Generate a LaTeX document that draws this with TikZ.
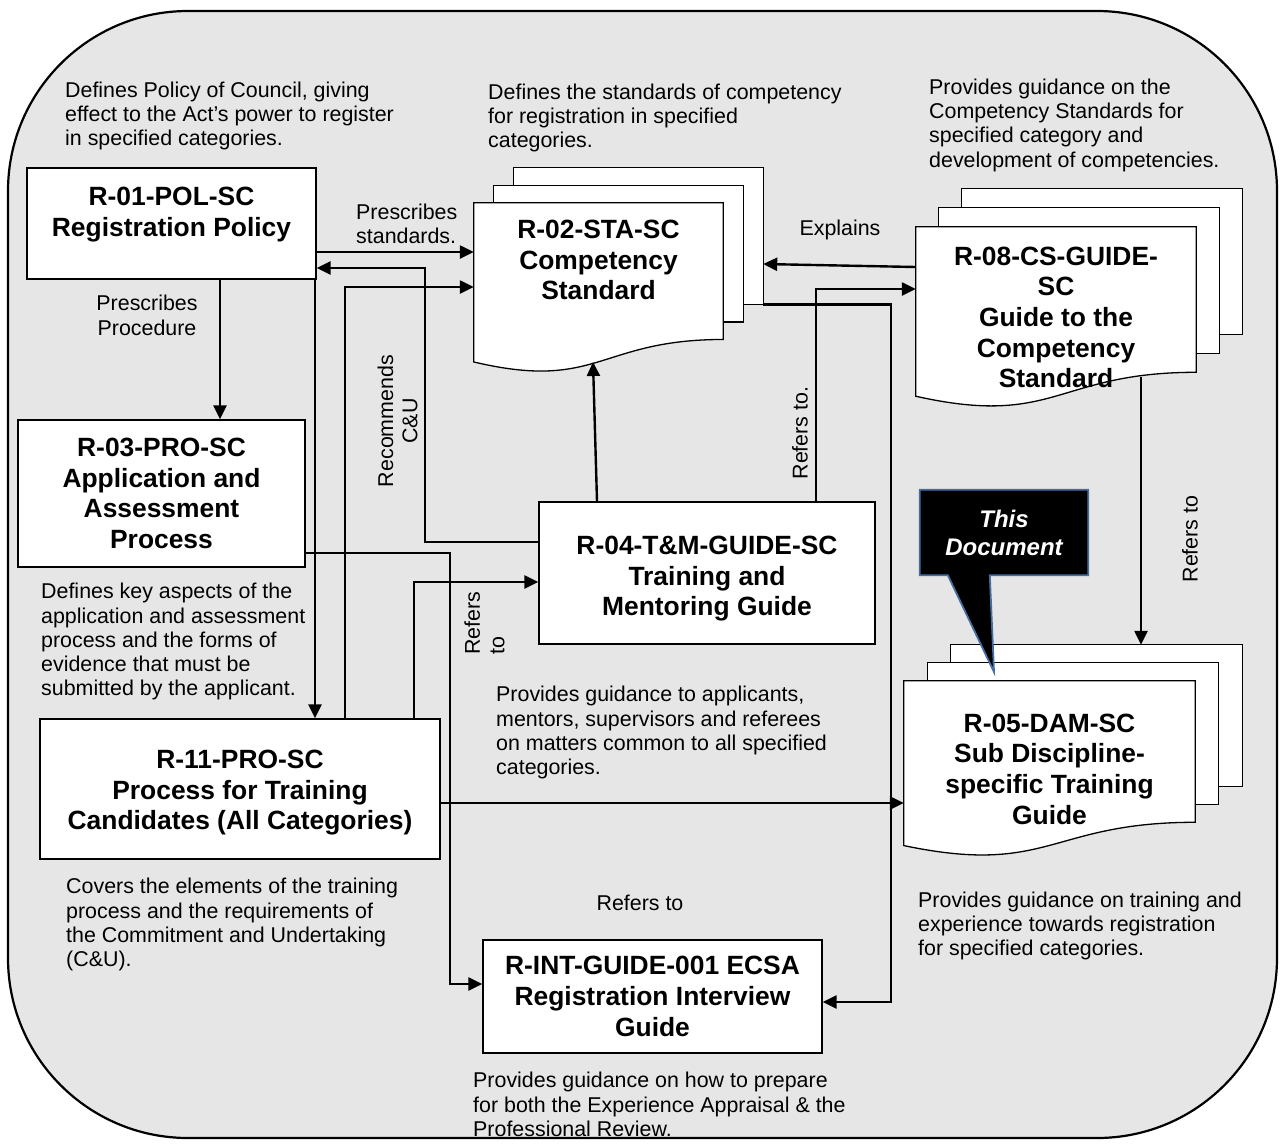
\documentclass[tikz,border=0pt]{standalone}
\usepackage{fontspec}
\setmainfont{Liberation Sans}
\usetikzlibrary{arrows.meta,calc}
\pgfdeclarelayer{framelayer}
\pgfdeclarelayer{doclayer}
\pgfsetlayers{framelayer,doclayer,main}
\definecolor{bggray}{RGB}{230,230,230}
\definecolor{callblue}{RGB}{70,110,160}
\newcommand\descfont{\fontsize{21.4pt}{24.3pt}\selectfont}
\newcommand\titlefont{\fontsize{26.4pt}{30.7pt}\selectfont\bfseries}
\newcommand\callfont{\fontsize{24pt}{28pt}\selectfont\bfseries\itshape}
\tikzset{
  box/.style={draw, line width=1.3pt, fill=white, inner sep=0pt, align=center, font=\titlefont},
  docnode/.style={inner sep=0pt, align=center, font=\titlefont},
  sheet/.style={draw, line width=1.3pt, fill=white},
  desc/.style={anchor=north west, inner sep=0pt, align=left, font=\descfont},
  lbl/.style={inner sep=0pt, font=\descfont},
  conn/.style={line width=2.4pt, -{Triangle[length=14pt,width=13pt]}},
  frame/.style={draw, line width=2.2pt, fill=bggray, rounded corners=180pt},
  callout/.style={fill=black, draw=callblue, line width=1.8pt, line join=miter},
}
% name, dx, dy : draws the stacked document shape around node #1
\newcommand\docstack[3]{%
  \coordinate (#1re) at ($(#1.north east)!0.802!(#1.south east)$);
  \coordinate (#1bse) at ($(#1re)+(2*#2,-2*#3)$);
  \coordinate (#1bnw) at ($(#1.north west)+(2*#2,-2*#3)$);
  \begin{pgfonlayer}{doclayer}
    \filldraw[sheet] (#1bnw) rectangle (#1bse);
    \filldraw[sheet] ($(#1.north west)+(#2,-#3)$) rectangle ($(#1re)+(#2,-#3)$);
    \filldraw[sheet] (#1.north west) -- (#1.north east) -- (#1re)
      .. controls ($(#1.north)!0.802!(#1.south)$) and ($(#1.north)!1.1075!(#1.south)$)
      .. ($(#1.north west)!0.934!(#1.south west)$) -- cycle;
  \end{pgfonlayer}}
\begin{document}
\begin{tikzpicture}[x=1pt, y=-1pt]
\useasboundingbox (0,0) rectangle (1282,1144);
\begin{pgfonlayer}{framelayer}
  \path[frame] (8,11) rectangle (1277,1138);
\end{pgfonlayer}

% boxes
\node[box, minimum width=289, minimum height=111] (r01) at (171.5,223.5)
  {\parbox[c][111pt][t]{289pt}{\centering\vspace*{19pt}R-01-POL-SC\\Registration Policy}};
\node[box, minimum width=287, minimum height=147] (r03) at (161.5,493.5)
  {R-03-PRO-SC\\Application and\\Assessment\\Process};
\node[box, minimum width=400, minimum height=140] (r11) at (240,789)
  {\parbox[c][140pt][t]{400pt}{\centering\vspace*{31pt}R-11-PRO-SC\\Process for Training\\Candidates (All Categories)}};
\node[box, minimum width=336, minimum height=142] (r04) at (707,573)
  {\parbox[c][142pt][t]{336pt}{\centering\vspace*{34pt}R-04-T\&M-GUIDE-SC\\Training and\\Mentoring Guide}};
\node[box, minimum width=339, minimum height=113] (rint) at (652.5,996.5)
  {R-INT-GUIDE-001 ECSA\\Registration Interview\\Guide};

% document stacks
\node[docnode, minimum width=249, minimum height=170] (r02) at (598.5,288)
  {\parbox[c][170pt][t]{249pt}{\centering\vspace*{17pt}R-02-STA-SC\\Competency\\Standard}};
\node[docnode, minimum width=280, minimum height=181] (r08) at (1056,317.5)
  {R-08-CS-GUIDE-\\SC\\Guide to the\\Competency\\Standard};
\node[docnode, minimum width=291, minimum height=176] (r05) at (1049.5,769)
  {R-05-DAM-SC\\Sub Discipline-\\specific Training\\Guide};
\docstack{r02}{20}{17.5}
\docstack{r08}{23}{19}
\docstack{r05}{23.5}{18}

% callout
\node[inner sep=0pt, align=center, font=\callfont, text=white, minimum width=168, minimum height=85] (thisdoc) at (1004,532.5) {This\\Document};
\coordinate (calltip) at (994,672);
\begin{pgfonlayer}{doclayer}
  \path[callout] (thisdoc.north west) -- (thisdoc.north east) -- (thisdoc.south east)
    -- ($(thisdoc.south west)+(70,0)$) -- (calltip) -- ($(thisdoc.south west)+(28,0)$)
    -- (thisdoc.south west) -- cycle;
\end{pgfonlayer}

% descriptions
\node[desc] (d01) at (65,81.5) {Defines Policy of Council, giving\\effect to the Act’s power to register\\in specified categories.};
\node[desc] (d02) at (488,83.5) {Defines the standards of competency\\for registration in specified\\categories.};
\node[desc] (d08) at (929,78.5) {Provides guidance on the\\Competency Standards for\\specified category and\\development of competencies.};
\node[desc] (d03) at (41,583) {Defines key aspects of the\\application and assessment\\process and the forms of\\evidence that must be\\submitted by the applicant.};
\node[desc] (d04) at (496,686) {Provides guidance to applicants,\\mentors, supervisors and referees\\on matters common to all specified\\categories.};
\node[desc] (d11) at (66,878) {Covers the elements of the training\\process and the requirements of\\the Commitment and Undertaking\\(C\&U).};
\node[desc] (d05) at (918,891.5) {Provides guidance on training and\\experience towards registration\\for specified categories.};
\node[desc] (dint) at (473,1072) {Provides guidance on how to prepare\\for both the Experience Appraisal \& the\\Professional Review.};

% connector labels
\node[lbl, anchor=north west, align=left] (lpstd) at (356,203.5) {Prescribes\\standards.};
\node[lbl, anchor=north, align=center] (lpproc) at (147,295) {Prescribes\\Procedure};
\node[lbl, anchor=north] (lexpl) at (840,220) {Explains};
\node[lbl, rotate=90, align=center] (lrec) at (397.5,421) {Recommends\\C\&U};
\node[lbl, rotate=90, align=left] (lref1) at (484.5,623) {Refers\\to};
\node[lbl, rotate=90] (lref2) at (800,433) {Refers to.};
\node[lbl, rotate=90] (lref3) at (1190,539) {Refers to};
\node[lbl] (lref4) at (640,903) {Refers to};

% connectors
\coordinate (r02wave) at (593,362);
\coordinate (r08wave) at (1141,377);
\draw[conn] (r01.east |- 0,252) -- (r02.west |- 0,252);
\draw[conn] (r04.west |- 0,542) -| (425,268) -- (r01.east |- 0,268);
\draw[conn] (r11.north -| 345,0) |- (r02.west |- 0,287);
\draw[conn] (r01.south -| 315,0) -- (r11.north -| 315,0);
\draw[conn] (r01.south -| 220,0) -- (r03.north -| 220,0);
\draw[conn] (r03.east |- 0,553) -| (450,984) -- (rint.west |- 0,984);
\draw[conn] (r11.north -| 414,0) |- (r04.west |- 0,582);
\draw[conn] (r04.north -| 597,0) -- (r02wave);
\draw[conn] (r08.west |- 0,267) -- (r02bse |- 0,264);
\draw[conn] (r04.north -| 816,0) |- (r08.west |- 0,289);
\draw[conn] (r02bse) -| (891,1002) -- (rint.east |- 0,1002);
\draw[conn] (r08wave) -- (r05bnw -| 1141,0);
\draw[conn] (r11.east |- 0,803) -- (r05.west |- 0,803);
\end{tikzpicture}
\end{document}
